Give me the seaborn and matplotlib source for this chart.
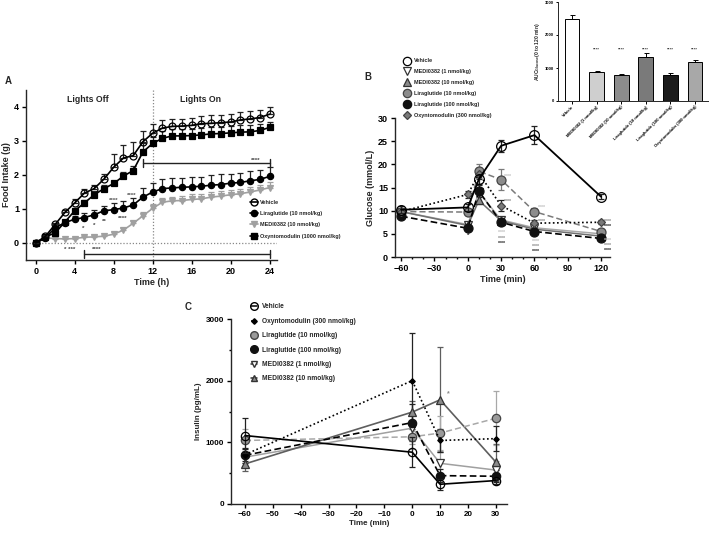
import seaborn as sns
import matplotlib.pyplot as plt
import matplotlib.ticker as mticker
from matplotlib.lines import Line2D
import numpy as np
import pandas as pd

# ---------------- A: cumulative food intake ----------------
hours = list(range(25))
fi_vehicle = [0, 0.20, 0.55, 0.90, 1.18, 1.47, 1.60, 1.88, 2.23, 2.50, 2.57, 2.98, 3.23,
              3.38, 3.43, 3.44, 3.46, 3.51, 3.52, 3.54, 3.56, 3.62, 3.65, 3.69, 3.79]
fi_vehicle_err = [0, 0.03, 0.05, 0.08, 0.10, 0.13, 0.12, 0.15, 0.38, 0.38, 0.40, 0.30, 0.27,
                  0.25, 0.23, 0.22, 0.22, 0.23, 0.23, 0.23, 0.22, 0.22, 0.23, 0.22, 0.22]
fi_lira = [0, 0.15, 0.45, 0.60, 0.70, 0.75, 0.83, 0.95, 0.98, 1.03, 1.12, 1.35, 1.50,
           1.60, 1.62, 1.64, 1.65, 1.67, 1.70, 1.72, 1.76, 1.78, 1.83, 1.87, 1.96]
fi_lira_err = [0, 0.02, 0.05, 0.06, 0.08, 0.12, 0.15, 0.15, 0.20, 0.20, 0.20, 0.28, 0.27,
               0.28, 0.28, 0.28, 0.30, 0.28, 0.30, 0.30, 0.28, 0.28, 0.30, 0.28, 0.28]
fi_medi = [0, 0.15, 0.13, 0.12, 0.13, 0.17, 0.18, 0.20, 0.26, 0.38, 0.58, 0.80, 1.02,
           1.20, 1.24, 1.25, 1.28, 1.30, 1.35, 1.38, 1.42, 1.45, 1.50, 1.56, 1.63]
fi_medi_err = [0, 0.02, 0.03, 0.03, 0.04, 0.05, 0.05, 0.05, 0.05, 0.07, 0.08, 0.10, 0.12,
               0.12, 0.12, 0.12, 0.15, 0.15, 0.15, 0.15, 0.15, 0.15, 0.15, 0.15, 0.15]
fi_oxm = [0, 0.18, 0.30, 0.62, 0.95, 1.18, 1.42, 1.60, 1.75, 1.97, 2.13, 2.68, 2.93,
          3.08, 3.15, 3.15, 3.16, 3.18, 3.21, 3.22, 3.24, 3.26, 3.27, 3.31, 3.40]
fi_oxm_err = [0, 0.02, 0.05, 0.07, 0.08, 0.08, 0.10, 0.10, 0.08, 0.12, 0.12, 0.25, 0.20,
              0.20, 0.20, 0.20, 0.20, 0.20, 0.20, 0.20, 0.20, 0.20, 0.20, 0.18, 0.16]

# ---------------- B: glucose ----------------
glu_time = [-60, 0, 10, 30, 60, 120]
glu_vehicle = [10.2, 10.7, 16.8, 24.0, 26.3, 13.0]
glu_vehicle_err = [0.7, 0.8, 1.0, 1.3, 2.0, 0.5]
glu_medi1 = [9.8, 7.0, 14.0, 8.0, 6.3, 5.0]
glu_medi1_err = [0.5, 0.4, 0.6, 0.5, 0.4, 0.3]
glu_medi10 = [9.8, 6.8, 12.2, 7.8, 6.0, 4.5]
glu_medi10_err = [0.5, 0.5, 0.7, 0.4, 0.4, 0.3]
glu_lira10 = [9.8, 9.7, 18.5, 16.7, 9.8, 5.5]
glu_lira10_err = [0.5, 0.7, 1.5, 2.2, 0.8, 0.5]
glu_lira100 = [8.8, 6.2, 14.2, 7.5, 5.5, 4.0]
glu_lira100_err = [0.4, 0.4, 1.3, 0.5, 0.3, 0.3]
glu_oxm = [9.8, 13.5, 18.0, 11.1, 7.3, 7.5]
glu_oxm_err = [0.5, 0.8, 1.2, 1.2, 0.6, 0.4]

# ---------------- inset: AUC glucose ----------------
auc_groups = ["Vehicle", "MEDI0382 (1 nmol/kg)", "MEDI0382 (10 nmol/kg)",
              "Liraglutide (10 nmol/kg)", "Liraglutide (100 nmol/kg)",
              "Oxyntomodulin (300 nmol/kg)"]
auc_values = [2490, 880, 790, 1340, 800, 1180]
auc_err = [110, 30, 20, 100, 50, 70]
auc_colors = ["#ffffff", "#cfcfcf", "#8c8c8c", "#7a7a7a", "#1c1c1c", "#a8a8a8"]

# ---------------- C: insulin ----------------
ins_time = [-60, 0, 10, 30]
ins_vehicle = [1110, 840, 320, 380]
ins_vehicle_err = [290, 240, 90, 50]
ins_oxm = [800, 2000, 1030, 1060]
ins_oxm_err = [100, 780, 180, 200]
ins_lira10 = [1030, 1090, 1150, 1390]
ins_lira10_err = [180, 200, 280, 440]
ins_lira100 = [790, 1320, 460, 450]
ins_lira100_err = [120, 300, 100, 100]
ins_medi1 = [760, 1230, 660, 550]
ins_medi1_err = [100, 250, 200, 150]
ins_medi10 = [650, 1490, 1690, 680]
ins_medi10_err = [120, 180, 850, 300]

# -------------------------- style --------------------------
sns.set_theme(style="ticks")
plt.rcParams["font.family"] = ["Liberation Sans", "DejaVu Sans"]
plt.rcParams["font.weight"] = "bold"
plt.rcParams["axes.labelweight"] = "bold"
plt.rcParams["axes.linewidth"] = 1.0
plt.rcParams["xtick.major.width"] = 1.0
plt.rcParams["ytick.major.width"] = 1.0
plt.rcParams["xtick.major.size"] = 3
plt.rcParams["ytick.major.size"] = 3
plt.rcParams["xtick.minor.size"] = 1.6
plt.rcParams["ytick.minor.size"] = 1.6
plt.rcParams["xtick.major.pad"] = 2
plt.rcParams["ytick.major.pad"] = 2
plt.rcParams["mathtext.fontset"] = "custom"
plt.rcParams["mathtext.rm"] = "Liberation Sans"
plt.rcParams["mathtext.bf"] = "Liberation Sans:bold"

W, H = 709, 536
fig = plt.figure(figsize=(W / 100, H / 100), dpi=100)


def px_axes(l, t, r, b):
    return fig.add_axes([l / W, 1 - b / H, (r - l) / W, (b - t) / H])


def draw(ax, x, y, err, color, ls, marker, ms, mfc, mec, lw=1.2, up_only=False, z=3):
    yerr = [np.zeros(len(err)), err] if up_only else err
    ax.errorbar(x, y, yerr=yerr, fmt="none", ecolor=color if color != "black" else "#222222",
                elinewidth=0.9, capsize=2.2, capthick=0.9, zorder=z - 1)
    sns.lineplot(x=x, y=y, ax=ax, color=color, linestyle=ls, linewidth=lw, marker=marker,
                 markersize=ms, markerfacecolor=mfc, markeredgecolor=mec,
                 markeredgewidth=0.9, errorbar=None, zorder=z)


def style_axes(ax, fs):
    sns.despine(ax=ax)
    ax.grid(False)
    ax.tick_params(labelsize=fs, direction="out", which="both", colors="black")
    for t in ax.get_xticklabels() + ax.get_yticklabels():
        t.set_fontweight("bold")


# ======================= Panel A =======================
axA = px_axes(26, 90, 277, 260)
axA.axhline(0, color="#888888", ls=(0, (1, 1.5)), lw=0.9, zorder=1)
axA.axvline(12, color="#888888", ls=(0, (1, 1.5)), lw=0.9, zorder=1)
draw(axA, hours, fi_medi, fi_medi_err, "#a0a0a0", "-", "v", 5, "#a0a0a0", "#a0a0a0", up_only=True)
draw(axA, hours, fi_lira, fi_lira_err, "black", "-", "o", 4.5, "black", "black", up_only=True)
draw(axA, hours, fi_oxm, fi_oxm_err, "black", "-", "s", 4.3, "black", "black", up_only=True)
draw(axA, hours, fi_vehicle, fi_vehicle_err, "black", "-", "o", 5, "none", "black", up_only=True, z=4)
axA.set_xlim(-1, 24.75)
axA.set_ylim(-0.5, 4.5)
axA.set_xticks(range(0, 25, 4))
axA.set_yticks(range(0, 5))
axA.set_xlabel("Time (h)", fontsize=6.5, labelpad=1.5)
axA.set_ylabel("Food Intake (g)", fontsize=6.5, labelpad=2)
style_axes(axA, 6.5)
axA.text(5.3, 4.22, "Lights Off", ha="center", va="center", fontsize=6.3, fontweight="bold")
axA.text(16.9, 4.22, "Lights On", ha="center", va="center", fontsize=6.3, fontweight="bold")
# significance brackets
axA.plot([11, 24], [2.36, 2.36], color="#222222", lw=1.0)
axA.plot([11, 11], [2.24, 2.48], color="#222222", lw=1.0)
axA.plot([24, 24], [2.24, 2.48], color="#222222", lw=1.0)
axA.plot([5, 24], [-0.33, -0.33], color="#222222", lw=1.0)
axA.plot([5, 5], [-0.45, -0.21], color="#222222", lw=1.0)
axA.plot([24, 24], [-0.45, -0.21], color="#222222", lw=1.0)
stars_A = [(22.6, 2.42, "****", "#444444"), (8.0, 1.24, "****", "#555555"),
           (9.8, 1.40, "****", "#555555"), (7.0, 0.64, "**", "#444444"),
           (6.0, 0.52, "*", "#444444"), (8.9, 0.73, "****", "#444444"),
           (4.9, 0.43, "*", "#444444"), (3.5, -0.19, "* ***", "#444444"),
           (6.3, -0.19, "****", "#444444")]
for sx, sy, st, sc in stars_A:
    axA.text(sx, sy, st, ha="center", va="center", fontsize=4.5, color=sc, fontweight="bold")

legA_labels = ["Vehicle", "Liraglutide (10 nmol/kg)", "MEDI0382 (10 nmol/kg)",
               "Oxyntomodulin (1000 nmol/kg)"]
legA_handles = [
    Line2D([], [], color="black", lw=1.2, marker="o", ms=5, mfc="none", mec="black"),
    Line2D([], [], color="black", lw=1.2, marker="o", ms=4.5, mfc="black", mec="black"),
    Line2D([], [], color="#a0a0a0", lw=1.2, marker="v", ms=5, mfc="#a0a0a0", mec="#a0a0a0"),
    Line2D([], [], color="black", lw=1.2, marker="s", ms=4.3, mfc="black", mec="black"),
]
legA = axA.legend(legA_handles, legA_labels, loc="upper left", bbox_to_anchor=(249.5 / W, 1 - 199.5 / H),
                  bbox_transform=fig.transFigure, frameon=False, fontsize=4, handlelength=1.5,
                  handletextpad=0.4, labelspacing=1.15, borderpad=0, borderaxespad=0)
legA.set_clip_on(False)
fig.text(8 / W, 1 - 81 / H, "A", ha="center", va="center", fontsize=7, fontweight="bold")

# ======================= Panel B =======================
axB = px_axes(395, 118, 610, 257)
draw(axB, glu_time, glu_medi1, glu_medi1_err, "#a8a8a8", "-", "v", 6, "white", "#333333", lw=1.1)
draw(axB, glu_time, glu_medi10, glu_medi10_err, "#707070", "-", "^", 6, "#8a8a8a", "#333333", lw=1.1)
draw(axB, glu_time, glu_lira10, glu_lira10_err, "#7a7a7a", (0, (4, 2)), "o", 6.5, "#8c8c8c", "#444444", lw=1.1)
draw(axB, glu_time, glu_lira100, glu_lira100_err, "black", (0, (4, 2)), "o", 6.5, "#111111", "#111111", lw=1.2)
draw(axB, glu_time, glu_oxm, glu_oxm_err, "black", (0, (1, 1.5)), "D", 4.2, "#7a7a7a", "#444444", lw=1.2)
draw(axB, glu_time, glu_vehicle, glu_vehicle_err, "black", "-", "o", 7, "none", "black", lw=1.3, z=5)
axB.set_xlim(-65.5, 128)
axB.set_ylim(0, 30)
axB.set_xticks([-60, -30, 0, 30, 60, 90, 120])
axB.xaxis.set_minor_locator(mticker.MultipleLocator(10))
axB.set_yticks(range(0, 31, 5))
axB.set_xlabel("Time (min)", fontsize=6.5, labelpad=1.5)
axB.set_ylabel("Glucose (mmol/L)", fontsize=6.5, labelpad=2)
style_axes(axB, 6.5)
stars_B = [(31, 5.2, "#c0c0c0"), (31, 4.1, "#8a8a8a"), (31, 3.0, "#222222"),
           (61, 3.4, "#c0c0c0"), (61, 2.3, "#8a8a8a"), (61, 1.2, "#222222"),
           (36, 17.3, "#c0c0c0"), (36, 11.9, "#8a8a8a"), (67, 10.6, "#c0c0c0"),
           (67, 7.6, "#8a8a8a"), (126, 7.7, "#8a8a8a"), (126, 6.5, "#222222"),
           (126, 3.6, "#c0c0c0"), (126, 2.5, "#8a8a8a"), (126, 1.4, "#222222")]
for sx, sy, sc in stars_B:
    axB.text(sx, sy, "****", ha="center", va="center", fontsize=3.8, color=sc, fontweight="bold",
             clip_on=False)
axB.text(0, 4.6, "*", ha="center", va="center", fontsize=4.5, color="#222222")

legB_labels = ["Vehicle", "MEDI0382 (1 nmol/kg)", "MEDI0382 (10 nmol/kg)",
               "Liraglutide (10 nmol/kg)", "Liraglutide (100 nmol/kg)", "Oxyntomodulin (300 nmol/kg)"]
legB_handles = [
    Line2D([], [], ls="none", marker="o", ms=6, mfc="none", mec="black", mew=0.9),
    Line2D([], [], ls="none", marker="v", ms=5.5, mfc="white", mec="#333333", mew=0.9),
    Line2D([], [], ls="none", marker="^", ms=5.5, mfc="#8a8a8a", mec="#333333", mew=0.9),
    Line2D([], [], ls="none", marker="o", ms=6, mfc="#8c8c8c", mec="#444444", mew=0.9),
    Line2D([], [], ls="none", marker="o", ms=6, mfc="#111111", mec="#111111", mew=0.9),
    Line2D([], [], ls="none", marker="D", ms=4, mfc="#7a7a7a", mec="#444444", mew=0.9),
]
axB.legend(legB_handles, legB_labels, loc="upper left", bbox_to_anchor=(404 / W, 1 - 58.5 / H),
           bbox_transform=fig.transFigure, frameon=False, fontsize=4, handlelength=0.9,
           handletextpad=0.9, labelspacing=1.05, borderpad=0, borderaxespad=0)
fig.text(368 / W, 1 - 77 / H, "B", ha="center", va="center", fontsize=7, fontweight="bold")

# ======================= inset: AUC =======================
axI = px_axes(558, 2, 708, 101)
auc_df = pd.DataFrame({"group": auc_groups, "auc": auc_values})
sns.barplot(data=auc_df, x="group", y="auc", hue="group", palette=auc_colors, legend=False,
            width=0.6, edgecolor="black", linewidth=0.7, ax=axI)
axI.errorbar(range(len(auc_groups)), auc_values, yerr=[np.zeros(len(auc_err)), auc_err],
             fmt="none", ecolor="black", elinewidth=0.7, capsize=1.8, capthick=0.7)
for i in range(1, len(auc_groups)):
    axI.text(i, 1560, "****", ha="center", va="center", fontsize=3.2, color="#333333")
axI.set_xlim(-0.57, 5.53)
axI.set_ylim(0, 3000)
axI.set_yticks([0, 1000, 2000, 3000])
axI.set_xlabel("")
axI.set_ylabel(r"AUC$_{\mathbf{Glucose}}$(0 to 120 min)", fontsize=3.6, labelpad=2)
style_axes(axI, 3)
axI.tick_params(length=1.8, width=0.7, pad=1)
for sp in axI.spines.values():
    sp.set_linewidth(0.7)
axI.set_xticks(range(len(auc_groups)))
axI.set_xticklabels(auc_groups, rotation=45, ha="right", rotation_mode="anchor",
                    fontsize=3, fontweight="bold")

# ======================= Panel C =======================
axC = px_axes(231, 319, 507, 504)
draw(axC, ins_time, ins_medi1, ins_medi1_err, "#a0a0a0", "-", "v", 5.5, "white", "#333333", lw=1.1)
draw(axC, ins_time, ins_medi10, ins_medi10_err, "#5e5e5e", "-", "^", 5.5, "#8a8a8a", "#333333", lw=1.2)
draw(axC, ins_time, ins_lira10, ins_lira10_err, "#a8a8a8", (0, (4, 2)), "o", 6, "#9a9a9a", "#444444", lw=1.1)
draw(axC, ins_time, ins_lira100, ins_lira100_err, "black", (0, (4, 2)), "o", 6, "#111111", "#111111", lw=1.2)
draw(axC, ins_time, ins_oxm, ins_oxm_err, "black", (0, (1, 1.5)), "D", 2.8, "black", "black", lw=1.2)
draw(axC, ins_time, ins_vehicle, ins_vehicle_err, "black", "-", "o", 6, "none", "black", lw=1.2, z=5)
axC.text(13, 1780, "*", ha="center", va="center", fontsize=5, color="#888888")
axC.set_xlim(-65, 34)
axC.set_ylim(0, 3000)
axC.set_xticks(range(-60, 31, 10))
axC.set_yticks([0, 1000, 2000, 3000])
axC.yaxis.set_minor_locator(mticker.MultipleLocator(500))
axC.set_xlabel("Time (min)", fontsize=5.8, labelpad=1.5)
axC.set_ylabel("Insulin (pg/mL)", fontsize=5.8, labelpad=3)
style_axes(axC, 5.8)

legC_labels = ["Vehicle", "Oxyntomodulin (300 nmol/kg)", "Liraglutide (10 nmol/kg)",
               "Liraglutide (100 nmol/kg)", "MEDI0382 (1 nmol/kg)", "MEDI0382 (10 nmol/kg)"]
legC_handles = [
    Line2D([], [], color="black", lw=1.1, marker="o", ms=5.5, mfc="none", mec="black"),
    Line2D([], [], color="black", lw=1.1, ls=(0, (1, 1.5)), marker="D", ms=2.8, mfc="black", mec="black"),
    Line2D([], [], color="#a8a8a8", lw=1.1, ls="none", marker="o", ms=5.5, mfc="#9a9a9a", mec="#444444"),
    Line2D([], [], color="black", lw=1.1, marker="o", ms=5.5, mfc="#111111", mec="#111111"),
    Line2D([], [], color="#333333", lw=1.1, marker="v", ms=5, mfc="white", mec="#333333"),
    Line2D([], [], color="#333333", lw=1.1, marker="^", ms=5, mfc="#8a8a8a", mec="#333333"),
]
axC.legend(legC_handles, legC_labels, loc="upper left", bbox_to_anchor=(251 / W, 1 - 303.5 / H),
           bbox_transform=fig.transFigure, frameon=False, fontsize=4.8, handlelength=0.9,
           handletextpad=0.8, labelspacing=1.1, borderpad=0, borderaxespad=0)
fig.text(188 / W, 1 - 307 / H, "C", ha="center", va="center", fontsize=7, fontweight="bold")

fig.savefig("out.png", dpi=100, facecolor="white")
